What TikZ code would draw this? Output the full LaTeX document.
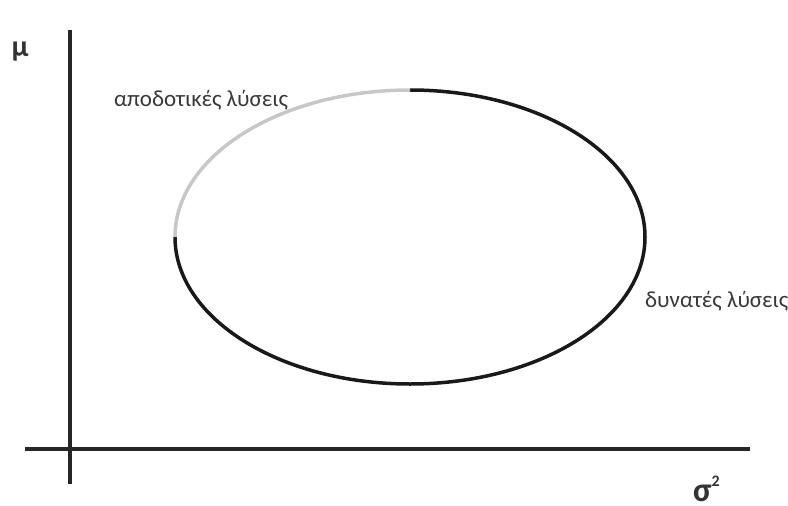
\documentclass[tikz,border=0pt]{standalone}
\usepackage{fontspec}
\setmainfont{Carlito}
\begin{document}
\begin{tikzpicture}[x=1pt,y=-1pt,
  axis/.style={line width=3.5pt,black!85},
  curve/.style={line width=3.5pt},
  lbl/.style={font=\fontsize{23}{26}\selectfont,text=black!78,inner sep=0pt}]
\useasboundingbox (0,0) rectangle (788,506);
\coordinate (ytop) at (70,30);
\coordinate (ybot) at (70,484);
\coordinate (xl) at (25,449);
\coordinate (xr) at (750,449);
\draw[axis] (ytop) -- (ybot);
\draw[axis] (xl) -- (xr);
\coordinate (c) at (410,237);
\draw[curve,black!90] (c) ++(270:235 and 147) arc[start angle=270,end angle=540,x radius=235,y radius=147];
\draw[curve,black!22] (c) ++(180:235 and 147) arc[start angle=180,end angle=270,x radius=235,y radius=147];
\node[lbl,anchor=west] (eff) at (114,100) {αποδοτικές λύσεις};
\node[lbl,anchor=west] (feas) at (645,301) {δυνατές λύσεις};
\node[font=\fontsize{30}{32}\selectfont\bfseries,text=black!80,inner sep=0pt] (mu) at (20,52) {μ};
\node[font=\fontsize{34}{36}\selectfont\bfseries,text=black!80,inner sep=0pt,anchor=base west] (s2) at (693,501) {σ\raisebox{0.9ex}{\fontsize{16}{18}\selectfont 2}};
\end{tikzpicture}
\end{document}
